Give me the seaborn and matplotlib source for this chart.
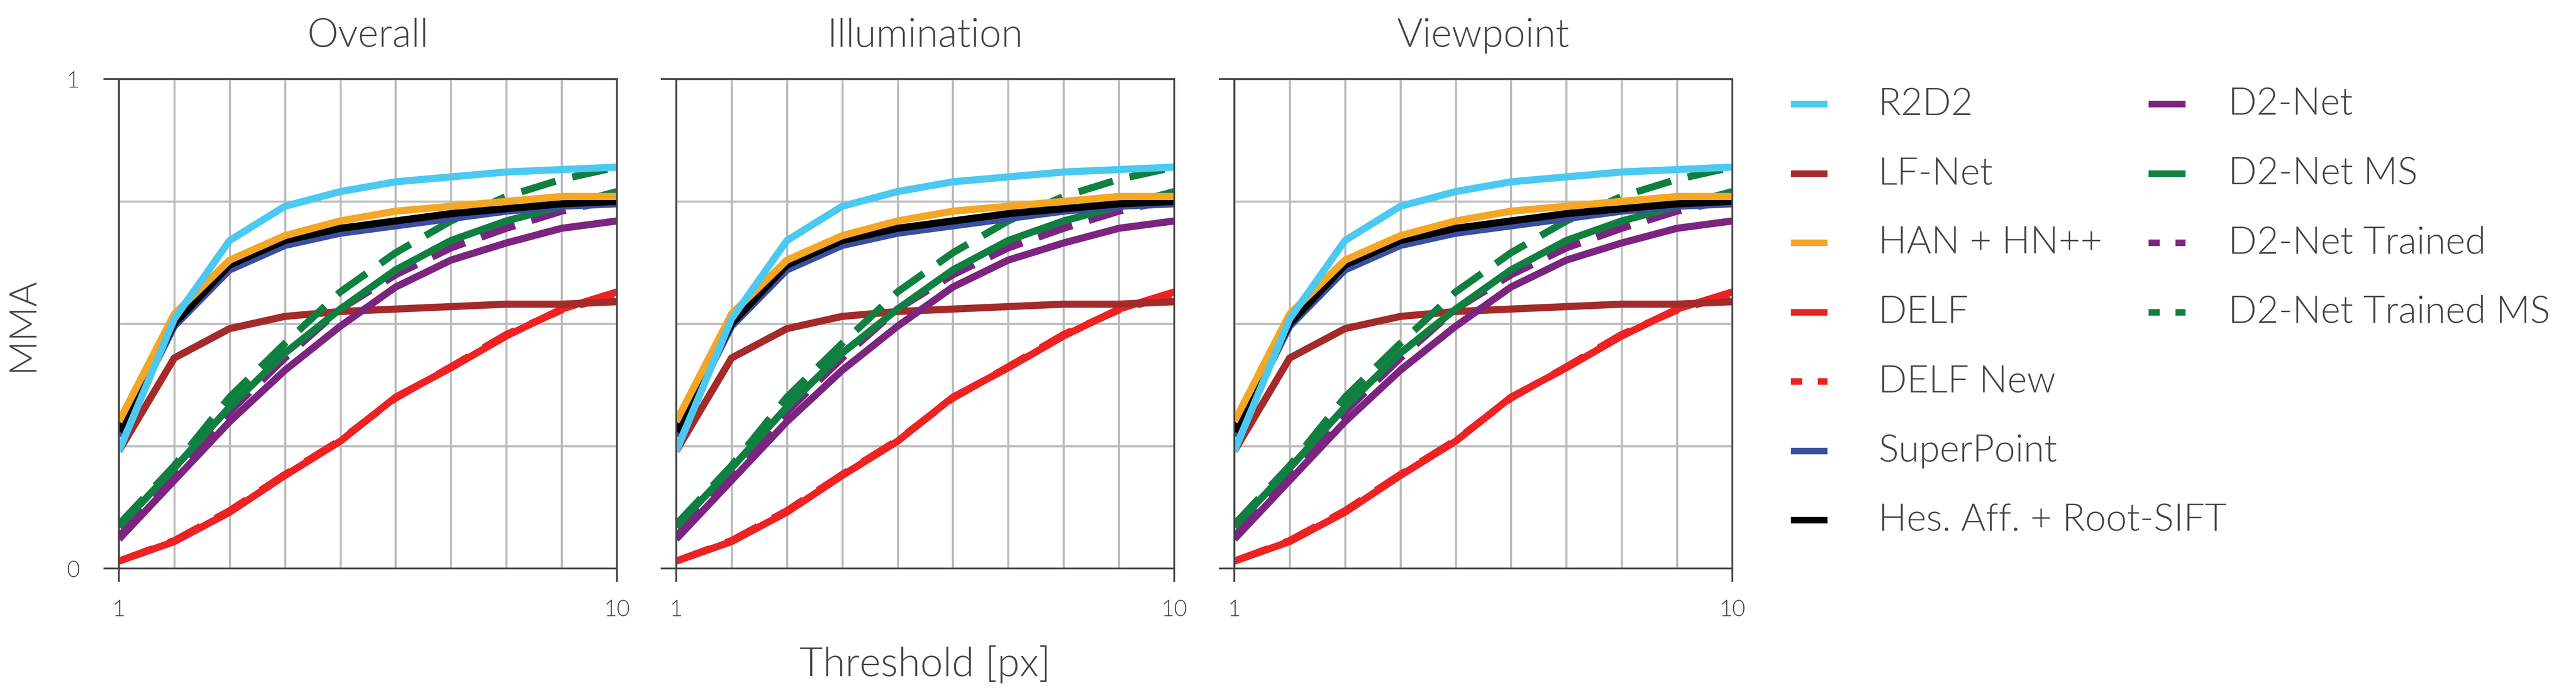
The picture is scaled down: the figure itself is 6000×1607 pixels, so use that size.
import matplotlib
matplotlib.use("Agg")
import matplotlib.pyplot as plt
import seaborn as sns
import pandas as pd
from matplotlib.lines import Line2D

thresholds = [1, 2, 3, 4, 5, 6, 7, 8, 9, 10]
panels = ["Overall", "Illumination", "Viewpoint"]

r2d2 = [0.24, 0.51, 0.67, 0.74, 0.77, 0.79, 0.80, 0.81, 0.815, 0.82]
lfnet = [0.24, 0.43, 0.49, 0.515, 0.525, 0.53, 0.535, 0.54, 0.54, 0.545]
han = [0.30, 0.52, 0.63, 0.68, 0.71, 0.73, 0.74, 0.75, 0.76, 0.76]
delf = [0.015, 0.055, 0.115, 0.19, 0.26, 0.35, 0.41, 0.475, 0.53, 0.565]
delf_new = [0.015, 0.057, 0.118, 0.192, 0.262, 0.348, 0.412, 0.478, 0.528, 0.56]
superpoint = [0.27, 0.495, 0.61, 0.66, 0.685, 0.70, 0.715, 0.73, 0.74, 0.745]
hesaff = [0.28, 0.50, 0.62, 0.67, 0.695, 0.71, 0.725, 0.735, 0.745, 0.75]
d2net = [0.06, 0.18, 0.30, 0.405, 0.495, 0.575, 0.63, 0.665, 0.695, 0.71]
d2net_ms = [0.085, 0.205, 0.33, 0.44, 0.53, 0.61, 0.67, 0.71, 0.74, 0.77]
d2net_tr = [0.065, 0.19, 0.32, 0.43, 0.53, 0.60, 0.655, 0.695, 0.73, 0.755]
d2net_tr_ms = [0.09, 0.21, 0.35, 0.46, 0.565, 0.645, 0.71, 0.76, 0.795, 0.82]

methods = ["R2D2", "LF-Net", "HAN + HN++", "DELF", "DELF New", "SuperPoint",
           "Hes. Aff. + Root-SIFT", "D2-Net", "D2-Net MS", "D2-Net Trained", "D2-Net Trained MS"]
values = [r2d2, lfnet, han, delf, delf_new, superpoint, hesaff, d2net, d2net_ms, d2net_tr, d2net_tr_ms]
colors = ["#4cc9f0", "#a52a2a", "#f5a623", "#ee2222", "#ee2222", "#3a4fa0",
          "#000000", "#7b2580", "#108040", "#7b2580", "#108040"]
dashed = [False, False, False, False, True, False, False, False, False, True, True]
draw_order = [3, 4, 1, 7, 9, 8, 10, 5, 6, 2, 0]

FONT = "Lato"
TXT = "#444444"
WT = 300
plt.rcParams["font.family"] = FONT
plt.rcParams["font.weight"] = WT

W, H = 6000, 1608
fig = plt.figure(figsize=(60, 16.08), dpi=100)
lefts = [277, 1575, 2875]
pw = 1160
top_px, bot_px = 185, 1325

for pi, name in enumerate(panels):
    ax = fig.add_axes([lefts[pi]/W, 1 - bot_px/H, pw/W, (bot_px-top_px)/H])
    for i in draw_order:
        df = pd.DataFrame({"x": thresholds, "y": values[i]})
        sns.lineplot(data=df, x="x", y="y", ax=ax, color=colors[i], lw=12,
                     linestyle=(0, (5.0, 2.4)) if dashed[i] else "-", legend=False,
                     solid_capstyle="butt")
    ax.set_xlim(1, 10)
    ax.set_ylim(0, 1)
    ax.set_xticks([1, 10])
    ax.set_xticklabels(["1", "10"], fontweight=WT)
    ax.set_xticks(range(2, 10), minor=True)
    ax.set_yticks([0, 1])
    ax.set_yticklabels(["0", "1"] if pi == 0 else ["", ""], fontweight=WT)
    ax.set_yticks([0.25, 0.5, 0.75], minor=True)
    ax.grid(True, which="both", color="#bbbbbb", lw=3.5)
    ax.set_axisbelow(True)
    for s in ax.spines.values():
        s.set_color("#444444")
        s.set_linewidth(3)
    ax.tick_params(which="minor", length=0)
    ax.tick_params(axis="y", which="major", length=26, width=3, color="#444444",
                   labelsize=38, labelcolor=TXT, pad=40)
    ax.tick_params(axis="x", which="major", length=22, width=3, color="#444444",
                   labelsize=38, labelcolor=TXT, pad=30)
    ax.set_xlabel("")
    ax.set_ylabel("MMA" if pi == 0 else "", fontsize=64, color=TXT, labelpad=45,
                  fontweight=WT)
    ax.set_title(name, fontsize=66, color=TXT, pad=55, fontweight=WT)

fig.text((lefts[1] + pw/2)/W, 1 - 1575/H, "Threshold [px]", ha="center", va="baseline",
         fontsize=68, color=TXT, fontweight=WT)

# legend (manual layout)
row_y = [243 + 161.5*k for k in range(7)]
cols = [(4171, 4256, 4375), (5004, 5090, 5190)]
for i, m in enumerate(methods):
    c = 0 if i < 7 else 1
    r = i if i < 7 else i - 7
    x0, x1, xt = cols[c]
    y = 1 - row_y[r]/H
    ls = (0, (1.7, 2.4)) if dashed[i] else "-"
    fig.add_artist(Line2D([x0/W, x1/W], [y, y], color=colors[i], lw=11,
                          linestyle=ls, solid_capstyle="butt", dash_capstyle="butt"))
    fig.text(xt/W, y, m, ha="left", va="center", fontsize=63, color=TXT, fontweight=WT)

fig.savefig("out.png", dpi=100)
